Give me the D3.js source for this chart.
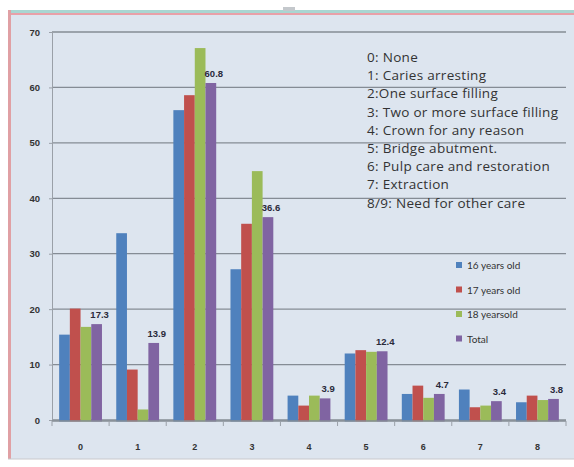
<!DOCTYPE html>
<html>
<head>
<meta charset="utf-8">
<script src="https://cdnjs.cloudflare.com/ajax/libs/d3/7.8.5/d3.min.js"></script>
<style>
  html, body { margin: 0; padding: 0; background: #fff; }
  svg { display: block; }
</style>
</head>
<body>
<div class="chart"></div>
<script>
var categories = ['0', '1', '2', '3', '4', '5', '6', '7', '8'];
var seriesNames = ['16 years old', '17 years old', '18 yearsold', 'Total'];

var age16 = [15.4, 33.7, 55.9, 27.2, 4.4, 12.0, 4.7, 5.5, 3.2];
var age17 = [20.1, 9.1, 58.6, 35.4, 2.6, 12.6, 6.2, 2.3, 4.4];
var age18 = [16.8, 1.9, 67.1, 44.9, 4.4, 12.3, 4.0, 2.6, 3.6];
var total = [17.3, 13.9, 60.8, 36.6, 3.9, 12.4, 4.7, 3.4, 3.8];

var yTicks = [0, 10, 20, 30, 40, 50, 60, 70];

var careCodes = [
	'0: None',
	'1: Caries arresting',
	'2:One surface filling',
	'3: Two or more surface filling',
	'4: Crown for any reason',
	'5: Bridge abutment.',
	'6: Pulp care and restoration',
	'7: Extraction',
	'8/9: Need for other care'
];

var colors = ['#4f81bd', '#c0504d', '#9bbb59', '#8064a2'];
var seriesValues = [age16, age17, age18, total];

var w = 574,
	h = 467,
	plotLeft = 52,
	plotRight = 566,
	plotTop = 32,
	plotBottom = 420;

var svg = d3.select('.chart')
	.append('svg')
	.attr('width', w)
	.attr('height', h);

// chart frame
svg.append('rect')
	.attr('x', 8).attr('y', 10)
	.attr('width', w - 8).attr('height', 449)
	.attr('fill', '#dde5ef');
svg.append('line')
	.attr('x1', 8).attr('x2', w).attr('y1', 11.5).attr('y2', 11.5)
	.attr('stroke', '#a9d6d2').attr('stroke-width', 3);
svg.append('line')
	.attr('x1', 8).attr('x2', w).attr('y1', 14).attr('y2', 14)
	.attr('stroke', '#e8a0a8').attr('stroke-width', 2);
svg.append('line')
	.attr('x1', 9.5).attr('x2', 9.5).attr('y1', 10).attr('y2', 459)
	.attr('stroke', '#e0a0a4').attr('stroke-width', 3);
svg.append('line')
	.attr('x1', 8).attr('x2', w).attr('y1', 459).attr('y2', 459)
	.attr('stroke', '#c8c8cc').attr('stroke-width', 1);
svg.append('rect')
	.attr('x', 283).attr('y', 7).attr('width', 12).attr('height', 4)
	.attr('fill', '#c4c8cc');

var x0 = d3.scaleBand()
	.domain(categories)
	.range([plotLeft, plotRight])
	.paddingInner(0.25)
	.paddingOuter(0.125);

var x1 = d3.scaleBand()
	.domain(d3.range(seriesValues.length))
	.range([0, x0.bandwidth()]);

var y = d3.scaleLinear()
	.domain([0, 70])
	.range([plotBottom, plotTop]);

// gridlines
svg.append('g')
	.selectAll('line')
	.data(yTicks)
	.enter()
	.append('line')
	.attr('x1', plotLeft)
	.attr('x2', plotRight)
	.attr('y1', function(d) { return y(d); })
	.attr('y2', function(d) { return y(d); })
	.attr('stroke', '#858c95')
	.attr('stroke-width', 1.3);

// y axis
var yAxis = svg.append('g')
	.attr('transform', 'translate(' + plotLeft + ',0)')
	.call(d3.axisLeft(y).tickValues(yTicks).tickSize(3).tickPadding(9));
yAxis.select('.domain').attr('stroke', '#9aa0a8');
yAxis.selectAll('.tick line').attr('stroke', '#9aa0a8');
yAxis.selectAll('text')
	.attr('fill', '#333')
	.style('font', 'bold 9.5px "Liberation Sans", Arial, sans-serif');

// bars
var groups = svg.append('g')
	.selectAll('g')
	.data(categories)
	.enter()
	.append('g')
	.attr('transform', function(d) {
		return 'translate(' + x0(d) + ',0)';
	});

groups.selectAll('rect')
	.data(function(d, i) {
		return seriesValues.map(function(s, k) {
			return { k: k, v: s[i] };
		});
	})
	.enter()
	.append('rect')
	.attr('x', function(d) { return x1(d.k); })
	.attr('y', function(d) { return y(d.v); })
	.attr('width', x1.bandwidth())
	.attr('height', function(d) { return plotBottom - y(d.v) + 1.5; })
	.attr('fill', function(d) { return colors[d.k]; });

// x axis
svg.append('line')
	.attr('x1', plotLeft).attr('x2', plotRight)
	.attr('y1', plotBottom + 1).attr('y2', plotBottom + 1)
	.attr('stroke', '#858c95').attr('stroke-width', 1.3);

svg.append('g')
	.selectAll('line')
	.data(d3.range(categories.length + 1))
	.enter()
	.append('line')
	.attr('x1', function(i) { return plotLeft + i * x0.step(); })
	.attr('x2', function(i) { return plotLeft + i * x0.step(); })
	.attr('y1', plotBottom + 1)
	.attr('y2', plotBottom + 6)
	.attr('stroke', '#9aa0a8');

svg.append('g')
	.selectAll('text')
	.data(categories)
	.enter()
	.append('text')
	.attr('x', function(d) { return x0(d) + x0.bandwidth() / 2; })
	.attr('y', 450)
	.attr('text-anchor', 'middle')
	.attr('fill', '#333')
	.style('font', 'bold 9px "Liberation Sans", Arial, sans-serif')
	.text(function(d) { return d; });

// total labels
svg.append('g')
	.selectAll('text')
	.data(total)
	.enter()
	.append('text')
	.attr('x', function(d, i) { return x0(categories[i]) + x1(3) + x1.bandwidth() / 2 + 3; })
	.attr('y', function(d) { return y(d) - 6; })
	.attr('text-anchor', 'middle')
	.attr('fill', '#2a2a3a')
	.style('font', 'bold 9.5px "Liberation Sans", Arial, sans-serif')
	.text(function(d) { return d3.format('.1f')(d); });

// care code notes
svg.append('g')
	.selectAll('text')
	.data(careCodes)
	.enter()
	.append('text')
	.attr('x', 367)
	.attr('y', function(d, i) { return 62 + i * 18.2; })
	.attr('fill', '#333')
	.style('font', '13.5px "Open Sans", sans-serif')
	.style('letter-spacing', '0.3px')
	.text(function(d) { return d; });

// legend
var legend = svg.append('g')
	.selectAll('g')
	.data(seriesNames)
	.enter()
	.append('g')
	.attr('transform', function(d, i) {
		return 'translate(456,' + (266 + i * 24.5) + ')';
	});

legend.append('rect')
	.attr('x', 0).attr('y', -4)
	.attr('width', 6).attr('height', 6)
	.attr('fill', function(d, i) { return colors[i]; });

legend.append('text')
	.attr('x', 11)
	.attr('y', 3)
	.attr('fill', '#333')
	.style('font', '10px Lato, "Open Sans", sans-serif')
	.text(function(d) { return d; });
</script>
</body>
</html>
